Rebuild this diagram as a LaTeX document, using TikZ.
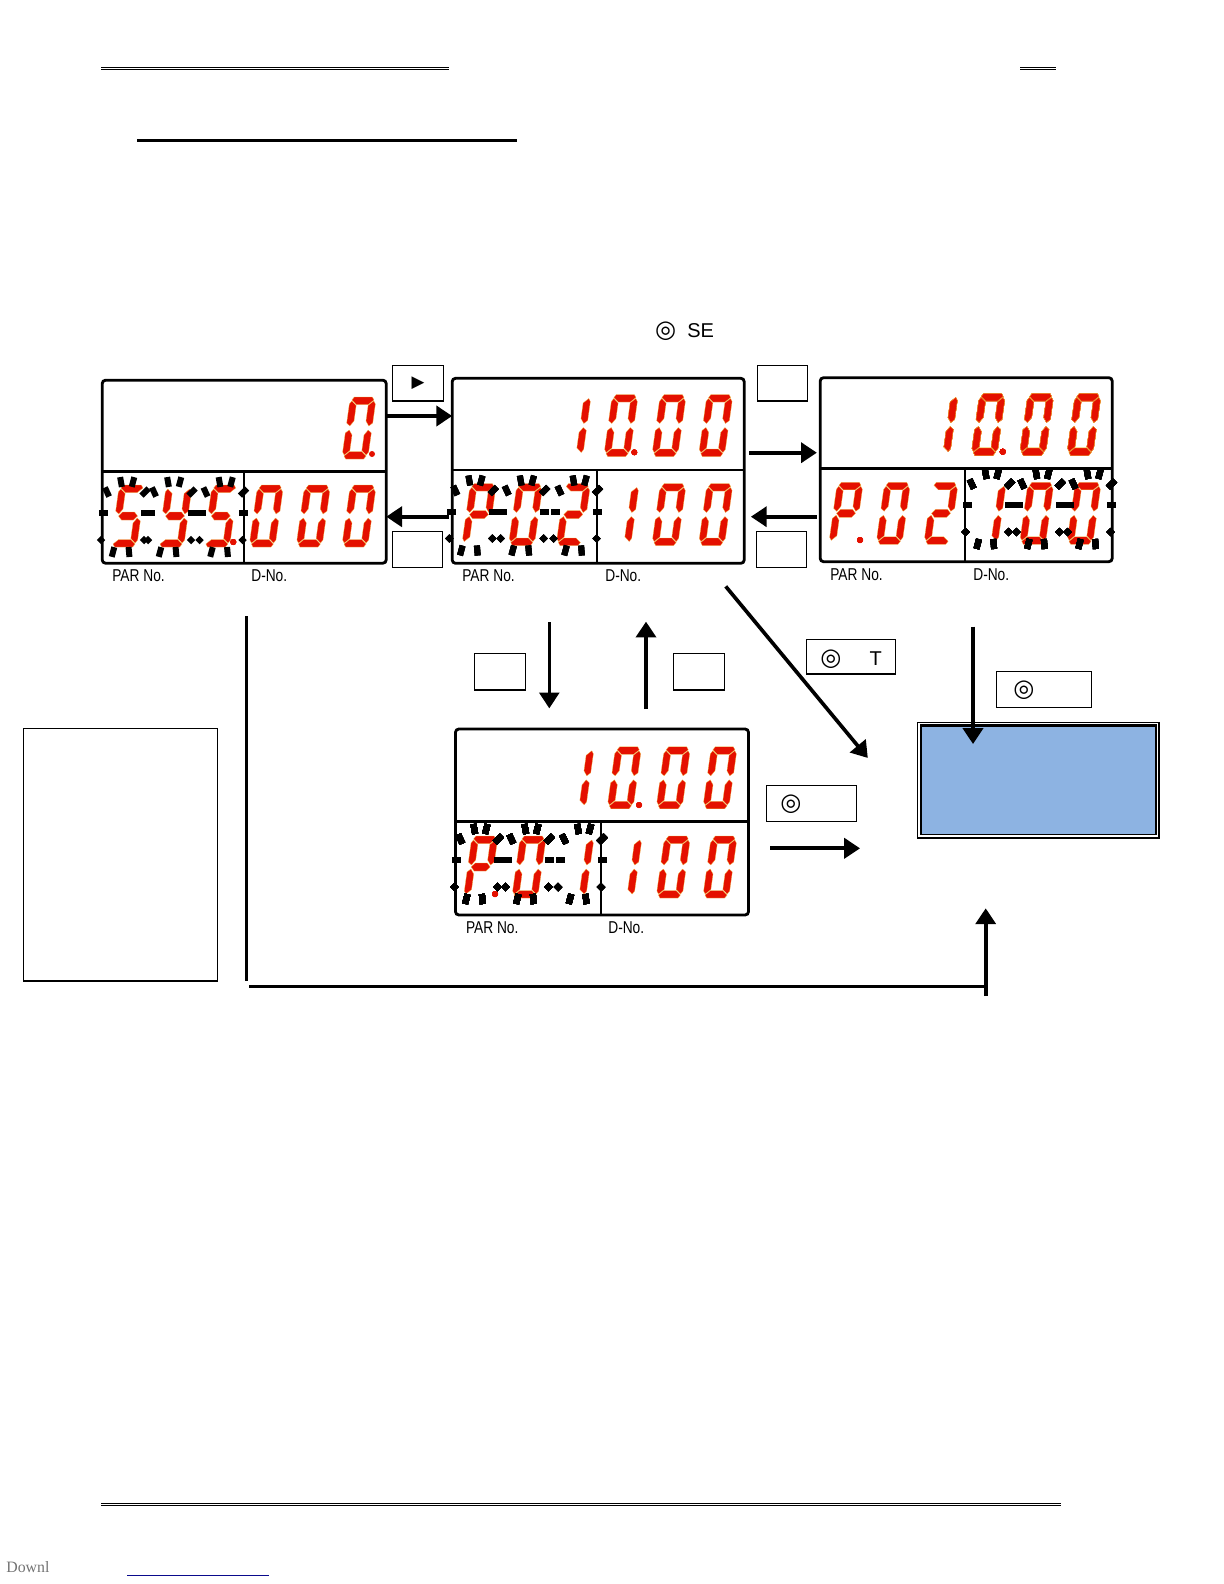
\documentclass[tikz,border=0pt]{standalone}
\usepackage{fontspec}
\setmainfont{Liberation Sans}
\newfontfamily\narrowfont[FakeStretch=0.8]{Liberation Sans}
\newfontfamily\serifont{Liberation Serif}
\newfontfamily\symfont{DejaVu Sans}
\usetikzlibrary{arrows.meta,positioning}
\definecolor{ledred}{RGB}{228,16,0}
\definecolor{ledrim}{RGB}{240,190,70}
\definecolor{paneblue}{HTML}{8DB3E2}
\definecolor{linkblue}{RGB}{10,10,140}
% digit segments, drawn round the digit centre
\newcommand{\sega}{\draw[seg] (-9,-31)--(9,-31)--(11,-28)--(6,-23.5)--(-6,-23.5)--(-11,-28)--cycle;}
\newcommand{\segd}{\draw[seg] (-9,31)--(9,31)--(11,28)--(6,23.5)--(-6,23.5)--(-11,28)--cycle;}
\newcommand{\segg}{\draw[seg] (-9.5,0)--(-6,-4)--(6,-4)--(9.5,0)--(6,4)--(-6,4)--cycle;}
\newcommand{\segf}{\draw[seg] (-13,-24)--(-11,-27)--(-6,-22.5)--(-6,-7)--(-9.5,-2)--(-13,-5)--cycle;}
\newcommand{\segb}{\draw[seg] (13,-24)--(11,-27)--(6,-22.5)--(6,-7)--(9.5,-2)--(13,-5)--cycle;}
\newcommand{\sege}{\draw[seg] (-13,24)--(-11,27)--(-6,22.5)--(-6,7)--(-9.5,2)--(-13,5)--cycle;}
\newcommand{\segc}{\draw[seg] (13,24)--(11,27)--(6,22.5)--(6,7)--(9.5,2)--(13,5)--cycle;}
\newcommand{\digZero}{a,b,c,d,e,f}
\newcommand{\digOne}{b,c}
\newcommand{\digTwo}{a,b,g,e,d}
\newcommand{\digP}{a,b,g,e,f}
\newcommand{\digS}{a,f,g,c,d}
\newcommand{\digY}{f,b,g,c,d}
\newcommand{\segdigit}[3]{%
  \begin{scope}[shift={(#1,#2)},xslant=0.14]
    \edef\seglist{#3}
    \foreach \s in \seglist {\csname seg\s\endcsname}
  \end{scope}}
% flash marks round one digit
\newcommand{\blink}[2]{%
  \begin{scope}[shift={(#1,#2)}]
    \foreach \dx/\dy/\ang/\bw/\bh in {-6/-34/10/6/10, 6/-34/-15/6/10, 18/-24/-45/6/10, -20/-24/25/6/10,
        -24/-3/0/9/6, 18/-3/0/9/6, -26/24/45/6/6, 17/24/45/6/6, -14/36/-15/6/10, 2/36/5/6/10}
      \fill[shift={(\dx,\dy)},rotate=\ang] (-\bw/2,-\bh/2) rectangle (\bw/2,\bh/2);
  \end{scope}}
\begin{document}
\begin{tikzpicture}[
  x=0.6pt, y=-0.6pt,
  seg/.style={fill=ledred, draw=ledrim, line width=0.15pt},
  sized/.style 2 args={minimum width=#1*0.6pt, minimum height=#2*0.6pt, inner sep=0pt, outer sep=0pt},
  panel/.style={draw, line width=1.7pt, rounded corners=2pt},
  divider/.style={line width=1.7pt},
  splitter/.style={line width=1pt},
  keybox/.style={draw, line width=0.8pt},
  tag/.style={font=\narrowfont\fontsize{10.3}{12}\selectfont, anchor=west, inner sep=0pt},
  symb/.style={font=\symfont\fontsize{14.5}{16}\selectfont, inner sep=0pt},
  word/.style={font=\fontsize{12}{14}\selectfont, inner sep=0pt},
  arr/.style={-{Triangle[length=9.5pt,width=12pt]}, line width=2.2pt},
  thinarr/.style={arr, line width=1.7pt},
  rule/.style={line width=0.7pt},
]
\useasboundingbox (0,0) rectangle (1224,1584);
% page rules
\draw[rule] (101,67.5) -- (449,67.5);
\draw[rule] (101,69.5) -- (449,69.5);
\draw[rule] (1020,67.5) -- (1055.5,67.5);
\draw[rule] (1020,69.5) -- (1055.5,69.5);
\draw[line width=1.8pt] (137,140.3) -- (516.7,140.3);
\draw[rule] (101,1503.5) -- (1060.5,1503.5);
\draw[rule] (101,1505.5) -- (1060.5,1505.5);
\draw[linkblue, line width=0.8pt] (127,1575.3) -- (269,1575.3);
\node[font=\serifont\fontsize{9.5}{11}\selectfont, text=black!55, anchor=west, inner sep=0pt] (downl) at (6,1567) {Downl};
% panels
\node[panel, sized={284}{183}] (sys) at (244.2,471.7) {};
\node[panel, sized={292}{185}] (par2) at (598.2,470.8) {};
\node[panel, sized={292}{184}] (par3) at (966.2,469.7) {};
\node[panel, sized={293}{186}] (par1) at (602,822) {};
\draw[divider] (sys.west |- 0,471.7) -- (sys.east |- 0,471.7);
\draw[divider] (par2.west |- 0,470) -- (par2.east |- 0,470);
\draw[divider] (par3.west |- 0,468.3) -- (par3.east |- 0,468.3);
\draw[divider] (par1.west |- 0,821.7) -- (par1.east |- 0,821.7);
\draw[splitter] (sys.south -| 244.3,0) -- (244.3,471.7);
\draw[splitter] (par2.south -| 597.3,0) -- (597.3,470);
\draw[splitter] (par3.south -| 965.3,0) -- (965.3,468.3);
\draw[splitter] (par1.south -| 601.3,0) -- (601.3,821.7);
% tags under the panels
\node[tag] (parSys) at (112,576) {PAR No.};
\node[tag] (dSys) at (251,576) {D-No.};
\node[tag] (parTwo) at (462,576) {PAR No.};
\node[tag] (dTwo) at (605,576) {D-No.};
\node[tag] (parThree) at (830,575) {PAR No.};
\node[tag] (dThree) at (973,575) {D-No.};
\node[tag] (parOne) at (465.7,928) {PAR No.};
\node[tag] (dOne) at (608,928) {D-No.};
% digits, left panel
\segdigit{359}{428}{\digZero}
\fill[ledred] (372,454) circle (1.8pt);
\foreach \x/\ch in {128/\digS,175/\digY,220.8/\digS,266.3/\digZero,313.3/\digZero,359/\digZero}
  \segdigit{\x}{516}{\ch}
\fill[ledred] (233.3,542) circle (1.8pt);
% digits, middle panel
\foreach \x/\ch in {574/\digOne,621/\digZero,669/\digZero,715.7/\digZero}
  \segdigit{\x}{425.5}{\ch}
\fill[ledred] (634.3,452.3) circle (1.8pt);
\foreach \x/\ch in {479/\digP,525.7/\digZero,573.3/\digTwo,622/\digOne,669/\digZero,715.7/\digZero}
  \segdigit{\x}{514.5}{\ch}
% digits, right panel
\foreach \x/\ch in {941/\digOne,988.3/\digZero,1036.7/\digZero,1084/\digZero}
  \segdigit{\x}{424.5}{\ch}
\fill[ledred] (1002.7,451.7) circle (1.8pt);
\foreach \x/\ch in {846/\digP,893.3/\digZero,941/\digTwo,989/\digOne,1036.7/\digZero,1084/\digZero}
  \segdigit{\x}{513.3}{\ch}
\fill[ledred] (860,540) circle (1.8pt);
% digits, lower panel
\foreach \x/\ch in {577/\digOne,624.3/\digZero,673.3/\digZero,720/\digZero}
  \segdigit{\x}{777.8}{\ch}
\fill[ledred] (639,805) circle (1.8pt);
\foreach \x/\ch in {480.7/\digP,529/\digZero,577/\digOne,625/\digOne,673.3/\digZero,720/\digZero}
  \segdigit{\x}{867}{\ch}
\fill[ledred] (495,894) circle (1.8pt);
% flash marks
\foreach \x in {127,174,225.5} \blink{\x}{516}
\foreach \x in {475.3,526.7,579.5} \blink{\x}{514.5}
\foreach \x in {991.7,1042.3,1093.5} \blink{\x}{508}
\foreach \x in {480.3,531.3,584} \blink{\x}{863}
% key boxes
\node[keybox, sized={50.6}{35.3}] (keyRight) at (418,383.4) {};
\node[symb, font=\symfont\fontsize{10}{12}\selectfont] (keyRightSym) at (keyRight) {▶};
\node[keybox, sized={49.6}{35.6}] (keyA) at (417.5,549.5) {};
\node[keybox, sized={50.4}{35.3}] (keyB) at (782.5,383.4) {};
\node[keybox, sized={50.4}{35.6}] (keyC) at (781.5,549.5) {};
\node[keybox, sized={51}{36.3}] (keyD) at (500.2,671.8) {};
\node[keybox, sized={50.6}{36.3}] (keyE) at (699,671.8) {};
\node[keybox, sized={89}{34.3}] (keyT) at (850.8,656.8) {};
\node[symb] (keyTSym) at (831,659) {◎};
\node[word] (keyTWord) at (875.7,658.5) {T};
\node[keybox, sized={90.4}{36}] (keyF) at (811.5,803.3) {};
\node[symb] (keyFSym) at (791,804.3) {◎};
\node[keybox, sized={95}{36}] (keyG) at (1044.2,689.3) {};
\node[symb] (keyGSym) at (1024,690.3) {◎};
\node[symb] (selSym) at (665.7,331) {◎};
\node[word, anchor=west] (selWord) at (687,331) {SE};
% side note box and blue box
\node[draw, line width=0.9pt, sized={194}{252.5}] (note) at (120.5,854.7) {};
\node[fill=black, sized={243.3}{117.6}] (blueOut) at (1038.35,780.5) {};
\node[fill=white, sized={239.4}{114}] (blueGap) at (1038,779.7) {};
\node[fill=black, sized={236.7}{111}] (blueRim) at (1038.35,779.5) {};
\node[fill=paneblue, sized={232.7}{107}] (blue) at (1038.65,780.5) {};
% arrows
\coordinate (blueIn) at (973,744);
\coordinate (lineLeft) at (249,986.3);
\coordinate (lineRight) at (985.7,986.3);
\coordinate (upFoot) at (985.7,996);
\coordinate (barTop) at (246.5,616);
\coordinate (barEnd) at (246.5,981);
\draw[arr] (sys.east |- 0,416) -- (par2.west |- 0,416);
\draw[arr, shorten <=2pt] (par2.west |- 0,516.7) -- (sys.east |- 0,516.7);
\draw[arr, shorten <=3pt, shorten >=2pt] (par2.east |- 0,452.7) -- (par3.west |- 0,452.7);
\draw[arr, shorten <=2pt, shorten >=4pt] (par3.west |- 0,516.7) -- (par2.east |- 0,516.7);
\draw[thinarr, shorten <=35.4pt, shorten >=12.4pt] (par2.south -| 549.3,0) -- (par1.north -| 549.3,0);
\draw[arr, shorten <=12pt, shorten >=35pt] (par1.north -| 646,0) -- (par2.south -| 646,0);
\draw[arr, shorten <=18pt, shorten >=46pt] (par2.south -| 706.6,0) -- (blueOut.west |- 0,817);
\draw[arr, shorten <=13pt, shorten >=34pt] (par1.east |- 0,848.3) -- (blueOut.west |- 0,848.3);
\draw[arr, shorten <=39pt] (par3.south -| 973,0) -- (blueIn);
\draw[arr, shorten >=41.4pt] (upFoot) -- (blueOut.south -| 985.7,0);
\draw[line width=1.7pt] (lineLeft) -- (lineRight);
\draw[line width=1.7pt] (barTop) -- (barEnd);
\end{tikzpicture}
\end{document}
